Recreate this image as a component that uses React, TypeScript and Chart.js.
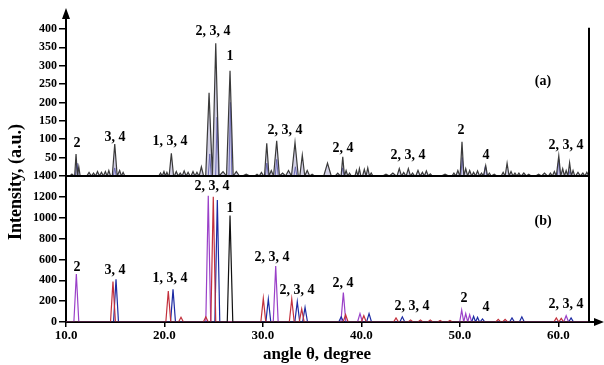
import React, { useEffect, useRef } from "react";
import { Chart, registerables } from "chart.js";

Chart.register(...registerables);

const SERIF = "'Times New Roman', 'Liberation Serif', 'DejaVu Serif', serif";

// x range (degrees) and ticks
const X_MIN = 10;
const X_MAX = 63.12;
const xTickValues = [10, 20, 30, 40, 50, 60];
const yTopTickValues = [50, 100, 150, 200, 250, 300, 350, 400];
const yBottomTickValues = [0, 200, 400, 600, 800, 1000, 1200, 1400];
const Y_TOP_MAX = 435;
const Y_BOTTOM_MAX = 1400;

// panel (a): [angle, intensity]
const topMainPeaks: [number, number][] = [
  [10.6, 5], [11.02, 60], [11.3, 25], [12.34, 10], [12.8, 8], [13.2, 12], [13.6, 10], [14.0, 12],
  [14.35, 15], [14.95, 87], [15.45, 15], [15.8, 10],
  [19.6, 8], [19.95, 12], [20.25, 10], [20.7, 62], [21.2, 12], [21.6, 8], [22.0, 14], [22.4, 10],
  [22.9, 12], [23.3, 10], [23.75, 25],
  [24.53, 226], [25.21, 361], [25.95, 12], [26.66, 286], [27.3, 12],
  [28.3, 5], [29.4, 5], [29.85, 10], [30.39, 89], [30.85, 15], [31.4, 96], [32.0, 8], [32.6, 15],
  [33.26, 91], [34.0, 57], [34.5, 15], [35.0, 5], [36.56, 35], [37.6, 8], [38.11, 52],
  [38.45, 15], [38.8, 8], [39.5, 15], [39.8, 20], [40.3, 18], [40.65, 22], [41.0, 8], [42.5, 5],
  [43.2, 8], [43.85, 20], [44.3, 10], [44.77, 20], [45.2, 8], [45.75, 15], [46.2, 10], [46.6, 14],
  [47.0, 6], [48.5, 5], [49.4, 8], [49.8, 15], [50.22, 93], [50.6, 20], [51.0, 15], [51.4, 10],
  [51.8, 14], [52.2, 8], [52.63, 28], [53.0, 8], [53.5, 5], [54.4, 10], [54.8, 35], [55.2, 12],
  [55.6, 8], [56.0, 8], [56.5, 8], [57.0, 5], [58.0, 5], [58.6, 8], [59.2, 8], [59.6, 12],
  [60.05, 55], [60.45, 20], [60.8, 15], [61.15, 36], [61.5, 15], [62.0, 10], [62.5, 8], [62.9, 10],
];
const topBluePeaks: [number, number][] = [
  [11.1, 35], [14.95, 22], [24.6, 60], [25.35, 160], [26.7, 200], [30.4, 35], [31.4, 45],
  [33.3, 25], [38.1, 22], [50.25, 50], [52.6, 28], [60.05, 45], [61.2, 15],
];

// panel (b): [angle, intensity]
const bottomPurplePeaks: [number, number][] = [
  [11.05, 460], [24.45, 1210], [31.3, 537], [38.17, 282], [39.86, 80], [50.19, 115],
  [50.6, 80], [51.0, 70], [60.8, 60],
];
const bottomRedPeaks: [number, number][] = [
  [14.77, 387], [20.39, 297], [21.68, 45], [24.2, 50], [24.96, 1200], [30.04, 227], [32.93, 220],
  [33.94, 125], [38.4, 70], [40.25, 60], [43.52, 40], [45.0, 20], [46.0, 20], [47.0, 20],
  [48.0, 15], [49.0, 15], [53.9, 25], [54.6, 25], [59.8, 40], [60.3, 35],
];
const bottomBluePeaks: [number, number][] = [
  [15.08, 410], [20.87, 313], [25.37, 1170], [30.55, 220], [33.49, 195], [34.28, 140],
  [37.95, 50], [40.78, 80], [44.16, 50], [51.4, 55], [51.8, 45], [52.3, 30], [55.3, 40],
  [56.3, 50], [61.3, 40],
];
const bottomBlackPeaks: [number, number][] = [[26.66, 1020]];

// annotations: [angle, intensity, text]
const labelsTop: [number, number, string][] = [
  [11.12, 90, "2"], [14.98, 106, "3, 4"], [20.56, 95, "1, 3, 4"], [24.93, 392, "2, 3, 4"],
  [26.66, 324, "1"], [32.24, 125, "2, 3, 4"], [38.14, 76, "2, 4"], [44.74, 57, "2, 3, 4"],
  [50.12, 125, "2"], [52.66, 57, "4"], [60.79, 82, "2, 3, 4"], [58.45, 256, "(a)"],
];
const labelsBottom: [number, number, string][] = [
  [11.12, 527, "2"], [14.98, 499, "3, 4"], [20.56, 422, "1, 3, 4"], [24.83, 1304, "2, 3, 4"],
  [26.66, 1093, "1"], [30.92, 623, "2, 3, 4"], [33.46, 307, "2, 3, 4"], [38.14, 374, "2, 4"],
  [45.14, 153, "2, 3, 4"], [50.43, 230, "2"], [52.66, 144, "4"], [60.79, 173, "2, 3, 4"],
  [58.45, 968, "(b)"],
];

function peakPoints(peaks: [number, number][], hw: number) {
  const sorted = [...peaks].sort((a, b) => a[0] - b[0]);
  const pts: { x: number; y: number }[] = [{ x: X_MIN, y: 0 }];
  sorted.forEach(([p, h], i) => {
    const prev = i > 0 ? sorted[i - 1][0] : -Infinity;
    const next = i < sorted.length - 1 ? sorted[i + 1][0] : Infinity;
    const w = Math.min(hw, (p - prev) / 2, (next - p) / 2);
    pts.push({ x: p - w, y: 0 }, { x: p, y: h }, { x: p + w, y: 0 });
  });
  pts.push({ x: X_MAX, y: 0 });
  return pts;
}

const decor = {
  id: "decor",
  afterDraw(chart: any) {
    const { ctx, chartArea: ca, scales } = chart;
    const x = scales.x, yA = scales.yA, yB = scales.yB;
    ctx.save();
    ctx.strokeStyle = "#000";
    ctx.fillStyle = "#000";
    ctx.lineWidth = 2;
    const ySep = yA.getPixelForValue(0);
    ctx.beginPath(); ctx.moveTo(ca.left, ySep); ctx.lineTo(ca.right, ySep); ctx.stroke();
    ctx.beginPath(); ctx.moveTo(ca.right, yA.getPixelForValue(400) - 1); ctx.lineTo(ca.right, ca.bottom); ctx.stroke();
    ctx.beginPath(); ctx.moveTo(ca.right, ca.bottom); ctx.lineTo(ca.right + 7, ca.bottom); ctx.stroke();
    ctx.beginPath();
    ctx.moveTo(ca.right + 15, ca.bottom); ctx.lineTo(ca.right + 5, ca.bottom - 4); ctx.lineTo(ca.right + 5, ca.bottom + 4);
    ctx.closePath(); ctx.fill();
    ctx.beginPath();
    ctx.moveTo(ca.left, ca.top - 8); ctx.lineTo(ca.left - 4, ca.top + 3); ctx.lineTo(ca.left + 4, ca.top + 3);
    ctx.closePath(); ctx.fill();

    ctx.font = "bold 14px " + SERIF;
    ctx.textAlign = "center";
    ctx.textBaseline = "middle";
    labelsTop.forEach(([dx, dy, t]) => ctx.fillText(t, x.getPixelForValue(dx), yA.getPixelForValue(dy)));
    labelsBottom.forEach(([dx, dy, t]) => ctx.fillText(t, x.getPixelForValue(dx), yB.getPixelForValue(dy)));

    ctx.font = "bold 17px " + SERIF;
    ctx.fillText("angle θ, degree", 317, 355);
    ctx.save();
    ctx.translate(16, 182);
    ctx.rotate(-Math.PI / 2);
    ctx.font = "bold 18px " + SERIF;
    ctx.fillText("Intensity, (a.u.)", 0, 0);
    ctx.restore();
    ctx.restore();
  },
};

export default function App() {
  const ref = useRef<HTMLCanvasElement | null>(null);
  useEffect(() => {
    if (!ref.current) return;
    const lineDs = (label: string, data: any, color: string, yAxisID: string, extra: any = {}) => ({
      label, data, borderColor: color, borderWidth: 1.2, pointRadius: 0, tension: 0, yAxisID, fill: false, ...extra,
    });
    const tickFontY = { family: SERIF, size: 12, weight: "bold" as const };
    const yCommon = (min: number, max: number, step: number, allowed: number[], weight: number, stackWeight: number) => ({
      type: "linear" as const,
      position: "left" as const,
      stack: "panels",
      stackWeight,
      weight,
      min, max,
      z: 1,
      ticks: {
        stepSize: step, color: "#000", font: tickFontY, padding: 2, autoSkip: false,
        callback: (v: any) => String(v),
      },
      afterBuildTicks: (axis: any) => {
        axis.ticks = allowed.map((v) => ({ value: v }));
      },
      afterFit: (axis: any) => { axis.width = 66; },
      grid: { drawOnChartArea: false, drawTicks: true, tickLength: 7, color: "#000", lineWidth: 1.5 },
      border: { display: true, color: "#000", width: 2 },
    });
    const chart = new Chart(ref.current, {
      type: "line",
      data: {
        datasets: [
          lineDs("a-main", peakPoints(topMainPeaks, 0.38), "#3a3a3a", "yA", { fill: "origin", backgroundColor: "rgba(170,166,206,0.5)" }),
          lineDs("a-blue", peakPoints(topBluePeaks, 0.15), "#2a2a9a", "yA", { borderWidth: 1 }),
          lineDs("b-black", peakPoints(bottomBlackPeaks, 0.28), "#111111", "yB"),
          lineDs("b-red", peakPoints(bottomRedPeaks, 0.25), "#c3303c", "yB"),
          lineDs("b-blue", peakPoints(bottomBluePeaks, 0.25), "#1c2aa3", "yB"),
          lineDs("b-purple", peakPoints(bottomPurplePeaks, 0.25), "#9a40c8", "yB"),
        ],
      },
      options: {
        animation: false,
        responsive: true,
        maintainAspectRatio: false,
        layout: { padding: { top: 16, right: 15, bottom: 0, left: 0 } },
        plugins: { legend: { display: false }, tooltip: { enabled: false } },
        scales: {
          x: {
            type: "linear",
            position: "bottom",
            min: X_MIN,
            max: X_MAX,
            z: 1,
            ticks: {
              stepSize: 10, color: "#000", padding: 1, maxRotation: 0, minRotation: 0, autoSkip: false,
              font: { family: SERIF, size: 13, weight: "bold" },
              callback: (v: any) => Number(v).toFixed(1),
            },
            afterBuildTicks: (axis: any) => { axis.ticks = xTickValues.map((v) => ({ value: v })); },
            afterFit: (axis: any) => { axis.height = 43; },
            grid: { drawOnChartArea: false, drawTicks: true, tickLength: 5, color: "#000", lineWidth: 1.5 },
            border: { display: true, color: "#000", width: 2 },
          },
          yB: yCommon(0, Y_BOTTOM_MAX, 200, yBottomTickValues, 1, 146),
          yA: yCommon(0, Y_TOP_MAX, 50, yTopTickValues, 2, 160),
        },
      } as any,
      plugins: [decor],
    });
    return () => chart.destroy();
  }, []);
  return (
    <div style={{ position: "fixed", left: 0, top: 0, width: 604, height: 365, background: "#fff" }}>
      <canvas ref={ref} />
    </div>
  );
}
